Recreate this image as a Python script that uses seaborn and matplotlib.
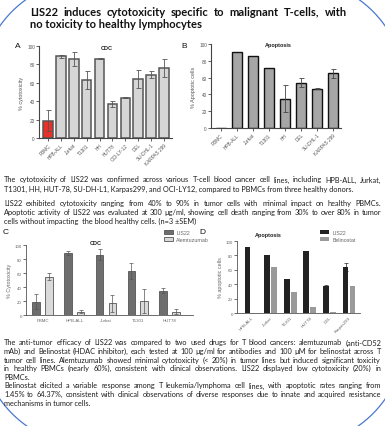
import numpy as np
import pandas as pd
import matplotlib
matplotlib.use("Agg")
import matplotlib.pyplot as plt
import seaborn as sns

# ---------------- data ----------------
# A: complement-dependent cytotoxicity of LIS22
cdc_lines = ["PBMC", "HPB-ALL", "Jurkat", "T1301", "HH", "HUT78",
             "OCI-LY-12", "DEL", "SU-DHL-1", "KARPAS 299"]
cdc_values = [19, 89, 86, 63, 86, 37, 44, 64, 69, 76]
cdc_sem = [11, 1.5, 8, 10, 0.6, 3, 0.5, 10, 4, 10]

# B: apoptosis induced by LIS22
apo_lines = ["PBMC", "HPB-ALL", "Jurkat", "T1301", "HH", "DEL",
             "SU-DHL-1", "KARPAS 299"]
apo_values = [0, 90, 86, 71, 35, 54, 47, 65]
apo_sem = [0, 0, 0, 0, 16, 5, 1, 5]

# C: LIS22 vs alemtuzumab (CDC)
cmp_lines = ["PBMC", "HPB-ALL", "Jurkat", "T1301", "HUT78"]
cmp_lis22 = [19, 89, 86, 63, 35]
cmp_lis22_sem = [11, 3, 8, 11, 3]
cmp_alem = [55, 5, 17, 20, 5]
cmp_alem_sem = [5, 1.5, 12, 17, 4]

# D: LIS22 vs belinostat (apoptosis)
bel_lines = ["HPB-ALL", "Jurkat", "T1301", "HUT78", "DEL", "Karpas299"]
bel_lis22 = [92, 81, 47, 86, 38, 64]
bel_lis22_sem = [0, 0, 0, 0, 1, 6]
bel_belino = [0, 64.37, 29, 8, 1.45, 37]
bel_belino_sem = [0, 0, 0, 0, 0, 0]

yticks = [0, 20, 40, 60, 80, 100]

# ---------------- figure ----------------
W, H = 385, 427
sns.set_theme(style="ticks")
plt.rcParams["font.family"] = ["Liberation Sans", "DejaVu Sans"]
fig = plt.figure(figsize=(W / 100, H / 100), dpi=100)
fig.patch.set_facecolor("white")

# full-figure overlay in pixel units (y grows downward)
bg = fig.add_axes([0, 0, 1, 1])
bg.set_xlim(0, W)
bg.set_ylim(H, 0)
bg.axis("off")
bg.patch.set_visible(False)


def rounded_outline(x0, y0, x1, y1, r, n=60):
    """Closed outline of a rectangle with circular corners of radius r."""
    t = np.linspace(0, np.pi / 2, n)
    corners = [
        (x1 - r, y0 + r, -np.pi / 2),   # top-right
        (x1 - r, y1 - r, 0.0),          # bottom-right
        (x0 + r, y1 - r, np.pi / 2),    # bottom-left
        (x0 + r, y0 + r, np.pi),        # top-left
    ]
    xs, ys = [], []
    for cx, cy, a0 in corners:
        xs.extend(cx + r * np.cos(a0 + t))
        ys.extend(cy + r * np.sin(a0 + t))
    xs.append(xs[0])
    ys.append(ys[0])
    return np.array(xs), np.array(ys)


bx, by = rounded_outline(-20, -20, W + 20, H + 20, 110)
bg.plot(bx, by, color="#4a78cc", lw=0.9, solid_capstyle="round")

BODY = ["Lato", "DejaVu Sans"]


def px_axes(left, right, top, bottom):
    ax = fig.add_axes([left / W, 1 - bottom / H, (right - left) / W, (bottom - top) / H])
    ax.patch.set_visible(False)
    return ax


def style_axes(ax, xlim, ylabel, spine_c="#444444", lw=0.8, lab_c="#555555",
               size=3.4):
    ax.set_xlim(*xlim)
    ax.set_ylim(0, 100)
    ax.set_yticks(yticks)
    sns.despine(ax=ax)
    for s in ("left", "bottom"):
        ax.spines[s].set_color(spine_c)
        ax.spines[s].set_linewidth(lw)
    ax.tick_params(length=2, width=0.6, labelsize=size, pad=1,
                   color=spine_c, labelcolor=lab_c)
    ax.set_xlabel("")
    ax.set_ylabel(ylabel, fontsize=3.9, labelpad=2, color=lab_c)


def rotate_labels(ax):
    for t in ax.get_xticklabels():
        t.set_rotation(45)
        t.set_ha("right")
        t.set_rotation_mode("anchor")


def add_errors(ax, x, y, err, color, lw=0.6, cap=1.8):
    x, y, err = np.asarray(x, float), np.asarray(y, float), np.asarray(err, float)
    m = err > 0
    ax.errorbar(x[m], y[m], yerr=err[m], fmt="none", ecolor=color,
                elinewidth=lw, capsize=cap, capthick=lw, zorder=5, clip_on=False)


def hue_errors(ax, sems, color, **kw):
    for cont, err in zip(ax.containers, sems):
        xs = [p.get_x() + p.get_width() / 2 for p in cont.patches]
        hs = [p.get_height() for p in cont.patches]
        add_errors(ax, xs, hs, err, color, **kw)


# ---------------- panel A ----------------
axA = px_axes(39, 172, 47, 139)
colA = ["#e8302b"] + ["#d6d6d6"] * (len(cdc_lines) - 1)
sns.barplot(x=cdc_lines, y=cdc_values, hue=cdc_lines, palette=colA, legend=False,
            width=0.74, edgecolor="#555555", linewidth=1.1, saturation=1,
            errorbar=None, ax=axA)
add_errors(axA, range(len(cdc_lines)), cdc_values, cdc_sem, "#555555")
style_axes(axA, (-0.7, 9.62), "% cytotoxicity")
rotate_labels(axA)

# ---------------- panel B ----------------
axB = px_axes(211, 341, 45, 129)
sns.barplot(x=apo_lines, y=apo_values, color="#a6a6a6", width=0.62,
            edgecolor="#111111", linewidth=1.0, saturation=1, errorbar=None, ax=axB)
add_errors(axB, range(len(apo_lines)), apo_values, apo_sem, "#444444")
style_axes(axB, (-0.6, 7.5), "% Apoptotic cells")
rotate_labels(axB)

# ---------------- panel C ----------------
axC = px_axes(26, 193, 246, 316)
dfC = pd.DataFrame({
    "line": cmp_lines * 2,
    "value": cmp_lis22 + cmp_alem,
    "drug": ["LIS22"] * len(cmp_lines) + ["Alemtuzumab"] * len(cmp_lines),
})
sns.barplot(data=dfC, x="line", y="value", hue="drug",
            palette={"LIS22": "#6e6e6e", "Alemtuzumab": "#dadada"},
            width=0.8, gap=0.41, edgecolor="#555555", linewidth=0.6,
            saturation=1, errorbar=None, ax=axC)
hue_errors(axC, [cmp_lis22_sem, cmp_alem_sem], "#555555", lw=0.5, cap=1.5)
style_axes(axC, (-0.52, 4.74), "% Cytotoxicity", spine_c="#555555", lw=0.6,
           lab_c="#666666", size=3.2)
axC.tick_params(axis="x", length=0, pad=2)
axC.legend(loc="upper left", bbox_to_anchor=(164 / W, 1 - 231 / H),
           bbox_transform=fig.transFigure, frameon=False, fontsize=3.8,
           handlelength=1.7, handleheight=0.8, handletextpad=0.6,
           labelspacing=0.35, borderpad=0, borderaxespad=0,
           labelcolor="#666666")

# ---------------- panel D ----------------
axD = px_axes(237, 360, 242, 314)
dfD = pd.DataFrame({
    "line": bel_lines * 2,
    "value": bel_lis22 + bel_belino,
    "drug": ["LIS22"] * len(bel_lines) + ["Belinostat"] * len(bel_lines),
})
sns.barplot(data=dfD, x="line", y="value", hue="drug",
            palette={"LIS22": "#222222", "Belinostat": "#9a9a9a"},
            width=0.7, gap=0.15, edgecolor="none", linewidth=0,
            saturation=1, errorbar=None, ax=axD)
hue_errors(axD, [bel_lis22_sem, bel_belino_sem], "#222222", lw=0.5, cap=1.5)
style_axes(axD, (-0.71, 5.56), "% apoptotic cells", spine_c="#555555", lw=0.6,
           lab_c="#666666", size=3.2)
axD.tick_params(axis="x", length=0, pad=1.5)
rotate_labels(axD)
axD.legend(loc="upper left", bbox_to_anchor=(320 / W, 1 - 231 / H),
           bbox_transform=fig.transFigure, frameon=False, fontsize=3.8,
           handlelength=1.7, handleheight=0.8, handletextpad=0.6,
           labelspacing=0.35, borderpad=0, borderaxespad=0,
           labelcolor="#666666")

# ---------------- panel titles and letters ----------------
ptitle = dict(fontsize=4.0, fontweight="bold", ha="center", va="center", color="#222222")
bg.text(107, 48, "CDC", **ptitle)
bg.text(278, 45, "Apoptosis", **ptitle)
bg.text(96, 244, "CDC", **ptitle)
bg.text(268, 236, "Apoptosis", **ptitle)

letter = dict(fontsize=6, ha="left", va="center", color="#111111")
bg.text(15, 46, "A", **letter)
bg.text(181, 46, "B", **letter)
bg.text(3, 233, "C", **letter)
bg.text(199, 233, "D", **letter)

# ---------------- text ----------------
renderer = fig.canvas.get_renderer()


def text_line(y, s, justify=True, x0=4, x1=381, size=5.3, weight="normal",
              color="#1e1e1e", min_gap=1.4):
    kw = dict(fontweight=weight, color=color, va="center", ha="left", family=BODY)
    if not justify:
        bg.text(x0, y, s, fontsize=size, **kw)
        return
    words = s.split()
    objs = [bg.text(0, y, w, fontsize=size, **kw) for w in words]
    # shrink slightly when a line is too long to keep visible word spacing
    while True:
        widths = [o.get_window_extent(renderer).width for o in objs]
        gap = (x1 - x0 - sum(widths)) / (len(words) - 1)
        if gap >= min_gap or size < 3:
            break
        size -= 0.1
        for o in objs:
            o.set_fontsize(size)
    x = x0
    for o, w in zip(objs, widths):
        o.set_x(x)
        x += w + gap


text_line(12, "LIS22 induces cytotoxicity specific to malignant T-cells, with",
          x0=30, x1=347, size=8.0, weight="bold", color="#111111", min_gap=2.5)
text_line(25, "no toxicity to healthy lymphocytes", justify=False, x0=30,
          size=8.0, weight="bold", color="#111111")

text_line(180, "The cytotoxicity of LIS22 was confirmed across various T-cell blood "
               "cancer cell lines, including HPB-ALL, Jurkat,")
text_line(189, "T1301, HH, HUT-78, SU-DH-L1, Karpas299, and OCI-LY12, compared to "
               "PBMCs from three healthy donors.", justify=False)

text_line(204, "LIS22 exhibited cytotoxicity ranging from 40% to 90% in tumor cells "
               "with minimal impact on healthy PBMCs.")
text_line(212.5, "Apoptotic activity of LIS22 was evaluated at 300 \u00b5g/ml, showing "
                 "cell death ranging from 30% to over 80% in tumor")
text_line(221, "cells without impacting  the blood healthy cells. (n=3 \u00b1SEM)",
          justify=False)

block3 = [
    ("The anti-tumor efficacy of LIS22 was compared to two used drugs for T blood "
     "cancers: alemtuzumab (anti-CD52", True),
    ("mAb) and Belinostat (HDAC inhibitor), each tested at 100 \u00b5g/ml for "
     "antibodies and 100 \u00b5M for belinostat across T", True),
    ("tumor cell lines. Alemtuzumab showed minimal cytotoxicity (< 20%) in tumor "
     "lines but induced significant toxicity", True),
    ("in healthy PBMCs (nearly 60%), consistent with clinical observations. LIS22 "
     "displayed low cytotoxicity (20%) in", True),
    ("PBMCs.", False),
    ("Belinostat elicited a variable response among T leukemia/lymphoma cell lines, "
     "with apoptotic rates ranging from", True),
    ("1.45% to 64.37%, consistent with clinical observations of diverse responses "
     "due to innate and acquired resistance", True),
    ("mechanisms in tumor cells.", False),
]
for i, (s, j) in enumerate(block3):
    text_line(343 + i * 8.6, s, justify=j)

fig.savefig("out.png", dpi=100)
